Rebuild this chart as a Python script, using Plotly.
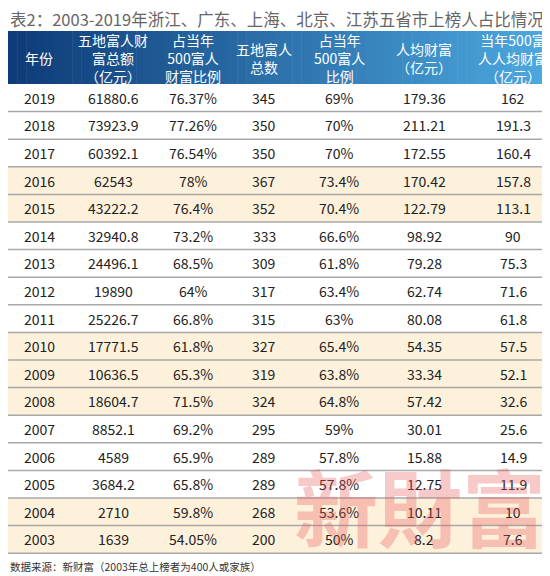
import plotly.graph_objects as go

title = "表2：2003-2019年浙江、广东、上海、北京、江苏五省市上榜人占比情况"
footer = "数据来源：新财富（2003年总上榜者为400人或家族）"
headers = ["年份", "五地富人财<br>富总额<br>（亿元）", "占当年<br>500富人<br>财富比例", "五地富人<br>总数",
           "占当年<br>500富人<br>比例", "人均财富<br>（亿元）", "当年500富<br>人人均财富<br>（亿元）"]
years = ["2019", "2018", "2017", "2016", "2015", "2014", "2013", "2012", "2011", "2010",
         "2009", "2008", "2007", "2006", "2005", "2004", "2003"]
total_wealth = ["61880.6", "73923.9", "60392.1", "62543", "43222.2", "32940.8", "24496.1", "19890",
                "25226.7", "17771.5", "10636.5", "18604.7", "8852.1", "4589", "3684.2", "2710", "1639"]
wealth_share = ["76.37%", "77.26%", "76.54%", "78%", "76.4%", "73.2%", "68.5%", "64%", "66.8%",
                "61.8%", "65.3%", "71.5%", "69.2%", "65.9%", "65.8%", "59.8%", "54.05%"]
people = ["345", "350", "350", "367", "352", "333", "309", "317", "315", "327", "319", "324",
          "295", "289", "289", "268", "200"]
people_share = ["69%", "70%", "70%", "73.4%", "70.4%", "66.6%", "61.8%", "63.4%", "63%", "65.4%",
                "63.8%", "64.8%", "59%", "57.8%", "57.8%", "53.6%", "50%"]
per_capita = ["179.36", "211.21", "172.55", "170.42", "122.79", "98.92", "79.28", "62.74", "80.08",
              "54.35", "33.34", "57.42", "30.01", "15.88", "12.75", "10.11", "8.2"]
top500_per_capita = ["162", "191.3", "160.4", "157.8", "113.1", "90", "75.3", "71.6", "61.8", "57.5",
                     "52.1", "32.6", "25.6", "14.9", "11.9", "10", "7.6"]
highlight = ["2016", "2015", "2010", "2009", "2008", "2004", "2003"]

columns = [years, total_wealth, wealth_share, people, people_share, per_capita, top500_per_capita]
col_edges = [0, 62, 148, 222, 290, 372, 460, 550]
head_top, head_bot = 23, 76
row_h = 27.6

shapes = []
annotations = []

# header gradient
n = 60
c0, c1 = (14, 60, 120), (78, 170, 225)
for i in range(n):
    t = i / (n - 1)
    c = tuple(int(c0[k] + (c1[k] - c0[k]) * t) for k in range(3))
    shapes.append(dict(type="rect", x0=550 * i / n, x1=550 * (i + 1) / n + 0.5, y0=head_top, y1=head_bot,
                       fillcolor="rgb(%d,%d,%d)" % c, line_width=0, layer="below"))

for j, h in enumerate(headers):
    annotations.append(dict(x=(col_edges[j] + col_edges[j + 1]) / 2, y=(head_top + head_bot) / 2, text=h,
                            showarrow=False, font=dict(color="white", size=14), align="center"))

for i, y in enumerate(years):
    top = head_bot + i * row_h
    if y in highlight:
        shapes.append(dict(type="rect", x0=0, x1=550, y0=top, y1=top + row_h, fillcolor="#fdf1dc",
                           line_width=0, layer="below"))
    shapes.append(dict(type="line", x0=0, x1=550, y0=top + row_h, y1=top + row_h,
                       line=dict(color="#a8a8a8", width=1.5)))
    for j, col in enumerate(columns):
        annotations.append(dict(x=(col_edges[j] + col_edges[j + 1]) / 2, y=top + row_h / 2, text=col[i],
                                showarrow=False, font=dict(color="#222222", size=14)))

annotations.append(dict(x=412, y=496, text="<b>新財富</b>", showarrow=False,
                        font=dict(family="Noto Sans CJK SC", size=84, color="rgba(235,90,90,0.33)")))
annotations.append(dict(x=0, y=11, text=title, showarrow=False, xanchor="left",
                        font=dict(color="#666666", size=16.5)))
annotations.append(dict(x=0, y=558, text=footer, showarrow=False, xanchor="left", yanchor="middle",
                        font=dict(color="#333333", size=10.5)))

fig = go.Figure()
fig.update_layout(width=550, height=576, margin=dict(l=0, r=0, t=0, b=0),
                  paper_bgcolor="white", plot_bgcolor="white",
                  font=dict(family="Noto Sans CJK SC"),
                  xaxis=dict(range=[0, 550], visible=False, fixedrange=True),
                  yaxis=dict(range=[576, 0], visible=False, fixedrange=True),
                  shapes=shapes, annotations=annotations, showlegend=False)
fig.write_html("out.html")
